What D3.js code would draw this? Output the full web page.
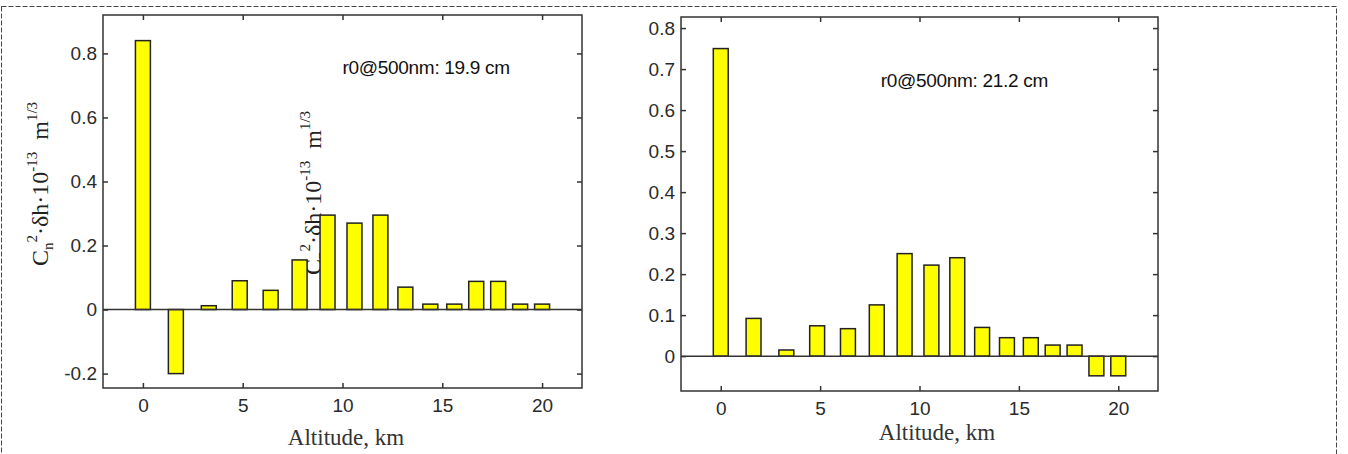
<!DOCTYPE html>
<html>
<head>
<meta charset="utf-8">
<script src="https://cdn.jsdelivr.net/npm/d3@7"></script>
<style>
body { margin: 0; background: #fff; }
svg { display: block; }
</style>
</head>
<body>
<svg id="chart" width="1348" height="454"></svg>
<script>
// altitude of each layer, km (same grid for both profiles)
const altitudes = [0, 1.65, 3.3, 4.85, 6.4, 7.85, 9.25, 10.6, 11.9, 13.15, 14.4, 15.6, 16.7, 17.8, 18.9, 20];
// Cn2*dh, 1e-13 m^1/3
const cn2Left = [0.84, -0.20, 0.012, 0.09, 0.06, 0.155, 0.295, 0.27, 0.295, 0.07, 0.017, 0.017, 0.088, 0.088, 0.017, 0.017];
const cn2Right = [0.75, 0.092, 0.015, 0.074, 0.067, 0.125, 0.25, 0.222, 0.24, 0.07, 0.045, 0.045, 0.027, 0.027, -0.048, -0.048];

const xTicks = [0, 5, 10, 15, 20];
const yTicksLeft = [-0.2, 0, 0.2, 0.4, 0.6, 0.8];
const yTicksRight = [0, 0.1, 0.2, 0.3, 0.4, 0.5, 0.6, 0.7, 0.8];

const r0Left = "r0@500nm: 19.9 cm";
const r0Right = "r0@500nm: 21.2 cm";
const xTitle = "Altitude, km";

const sans = "'Liberation Sans', Arial, sans-serif";
const serif = "'Liberation Serif', 'Times New Roman', serif";
const ink = "#222";

const svg = d3.select("#chart");

// outer dashed frame
svg.append("rect")
    .attr("x", 1.5).attr("y", 6.5)
    .attr("width", 1335).attr("height", 470)
    .attr("fill", "none")
    .attr("stroke", "#444")
    .attr("stroke-dasharray", "5,2");

function yLabel(g, x, y) {
    const t = g.append("text")
        .attr("transform", "translate(" + x + "," + y + ") rotate(-90)")
        .attr("text-anchor", "middle")
        .attr("font-family", serif)
        .attr("font-size", 24)
        .attr("fill", ink);
    t.append("tspan").text("C");
    t.append("tspan").attr("font-size", 15).attr("dy", 5).text("n");
    t.append("tspan").attr("font-size", 15).attr("dy", -16).text("2");
    t.append("tspan").attr("dy", 11).text("\u00b7\u03b4h\u00b710");
    t.append("tspan").attr("font-size", 15).attr("dy", -11).text("-13");
    t.append("tspan").attr("dy", 11).text("\u00a0\u00a0m");
    t.append("tspan").attr("font-size", 15).attr("dy", -11).text("1/3");
}

function fmt(d) { return String(+d.toFixed(1)); }

function drawPanel(opt) {
    const g = svg.append("g");
    const x = d3.scaleLinear().domain([-2, 22]).range([opt.left, opt.right]);
    const y = d3.scaleLinear().domain(opt.yDomain).range([opt.bottom, opt.top]);

    if (opt.before) opt.before(g);

    // bars
    const bw = x(0.75) - x(0);
    g.selectAll(".bar")
        .data(altitudes.map((a, i) => ({ alt: a, v: opt.values[i] })))
        .enter().append("rect")
        .attr("class", "bar")
        .attr("x", d => x(d.alt) - bw / 2)
        .attr("y", d => y(Math.max(0, d.v)))
        .attr("width", bw)
        .attr("height", d => Math.abs(y(d.v) - y(0)))
        .attr("fill", "#ffff00")
        .attr("stroke", ink)
        .attr("stroke-width", 1.5);

    // zero line
    g.append("line")
        .attr("x1", opt.left).attr("x2", opt.right)
        .attr("y1", y(0)).attr("y2", y(0))
        .attr("stroke", "#333").attr("stroke-width", 1.5);

    // axes, ticks pointing inward on all four sides
    const axes = [
        [d3.axisBottom(x).tickValues(xTicks).tickSize(-5).tickPadding(opt.xPad).tickFormat(d => d), opt.bottom, "x"],
        [d3.axisTop(x).tickValues(xTicks).tickSize(-5).tickFormat(""), opt.top, "x"],
        [d3.axisLeft(y).tickValues(opt.yTicks).tickSize(-5).tickPadding(6).tickFormat(fmt), opt.left, "y"],
        [d3.axisRight(y).tickValues(opt.yTicks).tickSize(-5).tickFormat(""), opt.right, "y"]
    ];
    axes.forEach(([ax, pos, dir]) => {
        const a = g.append("g")
            .attr("transform", dir === "x" ? "translate(0," + pos + ")" : "translate(" + pos + ",0)")
            .call(ax.tickSizeOuter(0));
        a.select(".domain").remove();
        a.selectAll("line").attr("stroke", "#333").attr("stroke-width", 1.5);
        a.selectAll("text").attr("font-family", sans).attr("font-size", 19).attr("fill", "#2a2a2a");
    });

    // frame
    g.append("rect")
        .attr("x", opt.left).attr("y", opt.top)
        .attr("width", opt.right - opt.left)
        .attr("height", opt.bottom - opt.top)
        .attr("fill", "none")
        .attr("stroke", "#333").attr("stroke-width", 1.5);

    // r0 note
    g.append("text")
        .attr("x", x(opt.note[0])).attr("y", y(opt.note[1]))
        .attr("font-family", sans).attr("font-size", 19)
        .attr("fill", "#111")
        .attr("letter-spacing", -0.3)
        .text(opt.noteText);

    // x title
    g.append("text")
        .attr("x", opt.titleX).attr("y", opt.titleY)
        .attr("text-anchor", "middle")
        .attr("font-family", serif).attr("font-size", 23)
        .attr("fill", "#333")
        .text(xTitle);

    return g;
}

// left profile
drawPanel({
    left: 103, right: 582, top: 15, bottom: 388,
    yDomain: [-0.245, 0.92], yTicks: yTicksLeft, values: cn2Left,
    xPad: 11, note: [10, 0.735], noteText: r0Left,
    titleX: 346, titleY: 445,
    // the second profile's y title lands inside this plot, under the bars
    before: g => yLabel(g, 321, 193)
});
yLabel(svg, 48, 184);

// right profile
drawPanel({
    left: 681, right: 1158, top: 17, bottom: 391,
    yDomain: [-0.085, 0.827], yTicks: yTicksRight, values: cn2Right,
    xPad: 10.5, note: [8.05, 0.656], noteText: r0Right,
    titleX: 937, titleY: 440
});
</script>
</body>
</html>
